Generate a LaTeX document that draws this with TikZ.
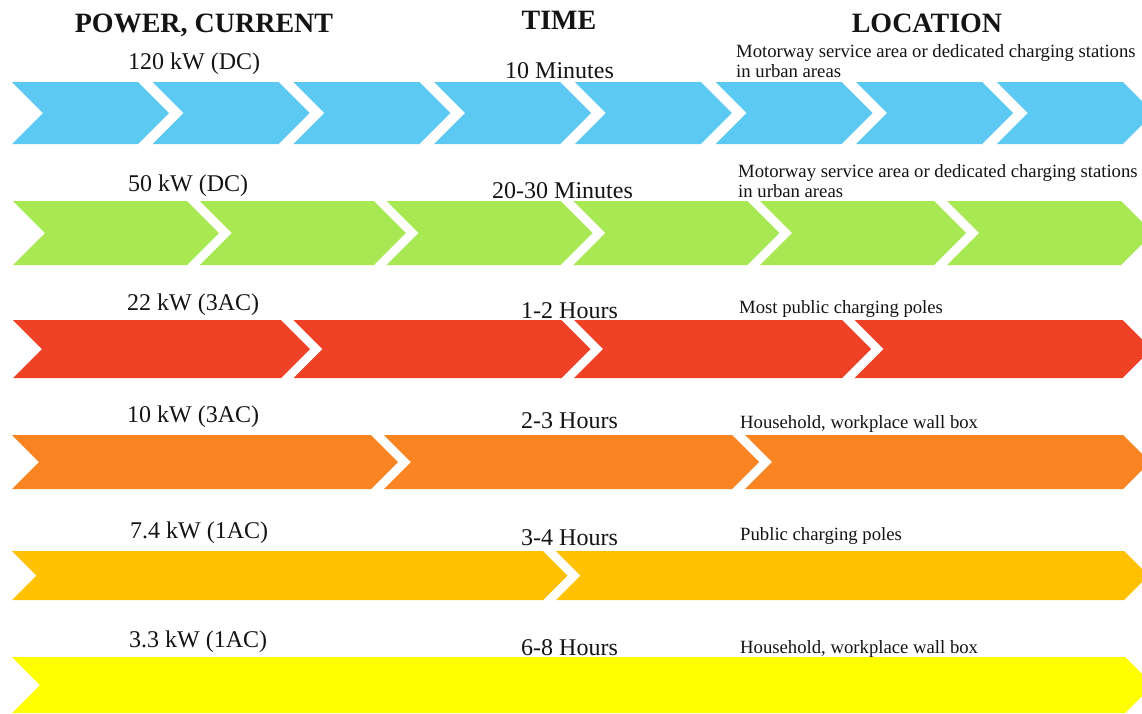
\documentclass[tikz,border=0pt]{standalone}
\usepackage{fontspec}
\setmainfont{Liberation Serif}
\definecolor{cblue}{HTML}{5BC9F1}
\definecolor{cgreen}{HTML}{A8E852}
\definecolor{cred}{HTML}{EF4125}
\definecolor{corange}{HTML}{FA8322}
\definecolor{camber}{HTML}{FFC000}
\definecolor{cyellow}{HTML}{FFFF00}
\definecolor{ctext}{HTML}{141414}
\newcommand\chevshape[5]{% colour, x left, x right, y top, y bottom
  \pgfmathsetmacro\cym{(#4+#5)/2}%
  \pgfmathsetmacro\cdd{(#5-#4)/2}%
  \fill[#1] (#2,#4) -- (#3,#4) -- ({#3+\cdd},\cym) -- (#3,#5) -- (#2,#5) -- ({#2+\cdd},\cym) -- cycle;}
\begin{document}
\begin{tikzpicture}[x=1pt,y=-1pt,
  hdr/.style={font=\fontsize{28}{30}\selectfont\bfseries, inner sep=0pt, anchor=base, text=ctext},
  pwr/.style={font=\fontsize{24}{26}\selectfont, inner sep=0pt, anchor=base west, text=ctext},
  tim/.style={font=\fontsize{24}{26}\selectfont, inner sep=0pt, anchor=base west, text=ctext},
  loc/.style={font=\fontsize{18.7}{20}\selectfont, inner sep=0pt, anchor=base west, text=ctext}]
\useasboundingbox (0,0) rectangle (1142,713);
\fill[white] (0,0) rectangle (1142,713);
\begin{scope}
\clip (0,0) rectangle (1142,713);
% row 1: blue, 8 chevrons
\foreach \k in {0,...,7} {
  \pgfmathsetmacro\xl{12+140.7*\k}
  \chevshape{cblue}{\xl}{\xl+126}{82}{144}
}
% row 2: green, 6 chevrons
\foreach \k in {0,...,5} {
  \pgfmathsetmacro\xl{13+186.8*\k}
  \chevshape{cgreen}{\xl}{\xl+174}{201}{265}
}
% row 3: red, 4 chevrons
\foreach \k in {0,...,3} {
  \pgfmathsetmacro\xl{13+280.5*\k}
  \chevshape{cred}{\xl}{\xl+268}{320}{378}
}
% row 4: orange, 3 chevrons
\chevshape{corange}{12}{371}{435}{489}
\chevshape{corange}{384}{732}{435}{489}
\chevshape{corange}{745}{1123}{435}{489}
% row 5: amber, 2 chevrons
\chevshape{camber}{12}{543}{551}{600}
\chevshape{camber}{556}{1124}{551}{600}
% row 6: yellow, 1 chevron
\chevshape{cyellow}{12}{1125}{657}{713}
\end{scope}
% headers
\node[hdr] (hpow) at (204,32) {POWER, CURRENT};
\node[hdr] (htime) at (559,29) {TIME};
\node[hdr] (hloc) at (927,32) {LOCATION};
% power labels
\node[pwr] (p1) at (128,69) {120 kW (DC)};
\node[pwr] (p2) at (128,191) {50 kW (DC)};
\node[pwr] (p3) at (127,310) {22 kW (3AC)};
\node[pwr] (p4) at (127,422) {10 kW (3AC)};
\node[pwr] (p5) at (130,538) {7.4 kW (1AC)};
\node[pwr] (p6) at (129,647) {3.3 kW (1AC)};
% time labels
\node[tim] (t1) at (505,78) {10 Minutes};
\node[tim] (t2) at (492,198) {20-30 Minutes};
\node[tim] (t3) at (521,318) {1-2 Hours};
\node[tim] (t4) at (521,428) {2-3 Hours};
\node[tim] (t5) at (521,545) {3-4 Hours};
\node[tim] (t6) at (521,655) {6-8 Hours};
% location labels
\node[loc] (l1a) at (736,57) {Motorway service area or dedicated charging stations};
\node[loc] (l1b) at (736,77) {in urban areas};
\node[loc] (l2a) at (738,177) {Motorway service area or dedicated charging stations};
\node[loc] (l2b) at (738,197) {in urban areas};
\node[loc] (l3) at (739,313) {Most public charging poles};
\node[loc] (l4) at (740,428) {Household, workplace wall box};
\node[loc] (l5) at (740,540) {Public charging poles};
\node[loc] (l6) at (740,653) {Household, workplace wall box};
\end{tikzpicture}
\end{document}
